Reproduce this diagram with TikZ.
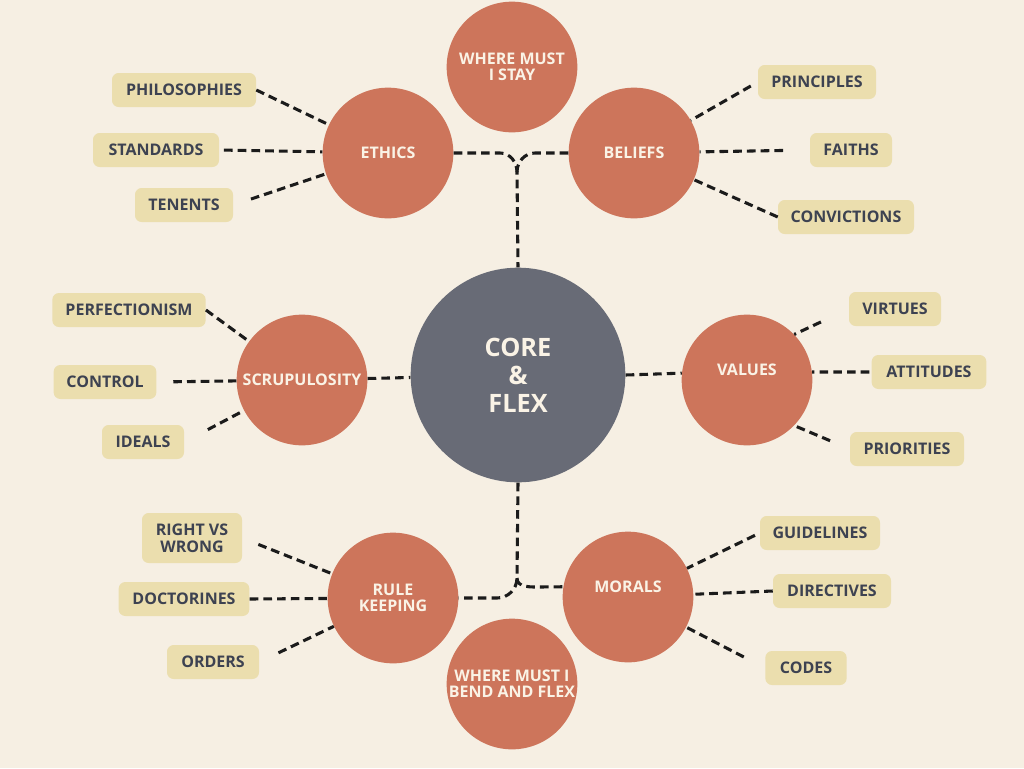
\documentclass[tikz,border=0pt]{standalone}
\usepackage{fontspec}
\setmainfont{Open Sans}
\definecolor{bg}{HTML}{F6EFE3}
\definecolor{terra}{HTML}{CD755B}
\definecolor{slate}{HTML}{686B76}
\definecolor{sand}{HTML}{EBDEAE}
\definecolor{ink}{HTML}{3D4251}
\definecolor{cream}{HTML}{FAF3E6}
\definecolor{dash}{HTML}{1B1B1B}
\tikzset{
  bubble/.style={circle, fill=terra, minimum size=98pt, inner sep=0pt, text=cream, font=\bfseries\fontsize{12}{12}\selectfont, align=center},
  corebubble/.style={circle, fill=slate, minimum size=161pt, inner sep=0pt, text=cream, font=\bfseries\fontsize{19}{21}\selectfont, align=center},
  tag/.style={fill=sand, rounded corners=5pt, minimum height=25.5pt, inner xsep=4pt, text=ink, font=\bfseries\fontsize{12}{12.5}\selectfont, align=center},
  conn/.style={draw=dash, line width=2.3pt, dash pattern=on 6.5pt off 3.8pt}
}
\begin{document}
\begin{tikzpicture}[x=0.75pt,y=-0.75pt]
\useasboundingbox (0,0) rectangle (1024,768);
\fill[bg] (0,0) rectangle (1024,768);

% circles
\node[bubble] (stay) at (512,67) {WHERE MUST\\I STAY};
\node[bubble] (ethics) at (388,153) {ETHICS};
\node[bubble] (beliefs) at (634,153) {BELIEFS};
\node[corebubble] (core) at (518,375) {CORE\\\&\\FLEX};
\node[bubble] (scrup) at (302,380) {SCRUPULOSITY};
\node[bubble, text depth=15pt] (values) at (747,380) {VALUES};
\node[bubble] (rule) at (393,598) {RULE\\KEEPING};
\node[bubble, text depth=15pt] (morals) at (628,597) {MORALS};
\node[bubble] (bend) at (512,684) {WHERE MUST I\\BEND AND FLEX};

% tags
\node[tag, minimum width=108pt] (philo) at (184,90) {PHILOSOPHIES};
\node[tag, minimum width=94.5pt] (stand) at (156,150) {STANDARDS};
\node[tag, minimum width=73.5pt] (tenents) at (184,205) {TENENTS};
\node[tag, minimum width=88.5pt] (princ) at (817,82) {PRINCIPLES};
\node[tag, minimum width=61.5pt] (faiths) at (851,150) {FAITHS};
\node[tag, minimum width=102pt] (convic) at (846,217) {CONVICTIONS};
\node[tag, minimum width=115pt] (perfect) at (129,310) {PERFECTIONISM};
\node[tag, minimum width=77pt] (control) at (105,382) {CONTROL};
\node[tag, minimum width=61.5pt] (ideals) at (143,442) {IDEALS};
\node[tag, minimum width=69pt] (virtues) at (895,309) {VIRTUES};
\node[tag, minimum width=86pt] (attit) at (929,372) {ATTITUDES};
\node[tag, minimum width=85.5pt] (prior) at (907,449) {PRIORITIES};
\node[tag, minimum width=75pt, minimum height=37.5pt] (right) at (192,538) {RIGHT VS\\WRONG};
\node[tag, minimum width=98pt] (doct) at (184,599) {DOCTORINES};
\node[tag, minimum width=69pt] (orders) at (213,662) {ORDERS};
\node[tag, minimum width=90pt] (guide) at (820,533) {GUIDELINES};
\node[tag, minimum width=88.5pt] (direct) at (832,591) {DIRECTIVES};
\node[tag, minimum width=61pt] (codes) at (806,668) {CODES};

% spokes
\draw[conn] (philo.east) -- (ethics);
\draw[conn, shorten <=3.5pt] (stand.east) -- (ethics);
\draw[conn, shorten <=14pt] (tenents.east) -- (ethics);
\draw[conn, shorten <=6pt] (princ.west) -- (beliefs);
\draw[conn, shorten <=20pt] (faiths.west) -- (beliefs);
\draw[conn] (convic.west) -- (beliefs);
\draw[conn] (perfect.east) -- (scrup);
\draw[conn, shorten <=12.5pt] (control.east) -- (scrup);
\draw[conn, shorten <=20pt] (ideals.east) -- (scrup);
\draw[conn, shorten <=23pt] (virtues.west) -- (values.44);
\draw[conn, shorten <=1.5pt] (attit.west) -- (values.7);
\draw[conn, shorten <=16pt] (prior.west) -- (values.-44);
\draw[conn, shorten <=13pt] (right.east) -- (rule);
\draw[conn] (doct.east) -- (rule);
\draw[conn, shorten <=16pt] (orders.east) -- (rule);
\draw[conn, shorten <=4pt] (guide.west) -- (morals);
\draw[conn] (direct.west) -- (morals);
\draw[conn, shorten <=18pt] (codes.west) -- (morals);

% trunk
\coordinate (jtop) at (517,172);
\coordinate (jbot) at (517,578);
\draw[conn] (ethics.east) -- (500,153) to[out=0,in=90] (jtop) -- (core.north);
\draw[conn] (beliefs.west) -- (535,153) to[out=180,in=90] (jtop);
\draw[conn] (scrup) -- (core);
\draw[conn] (core.east) -- (values.174);
\draw[conn] (core.south) -- (jbot) to[out=-90,in=0] (497,598) -- (rule.east);
\draw[conn] (jbot) to[out=-90,in=180] (540,587) -- (morals.171);
\end{tikzpicture}
\end{document}
